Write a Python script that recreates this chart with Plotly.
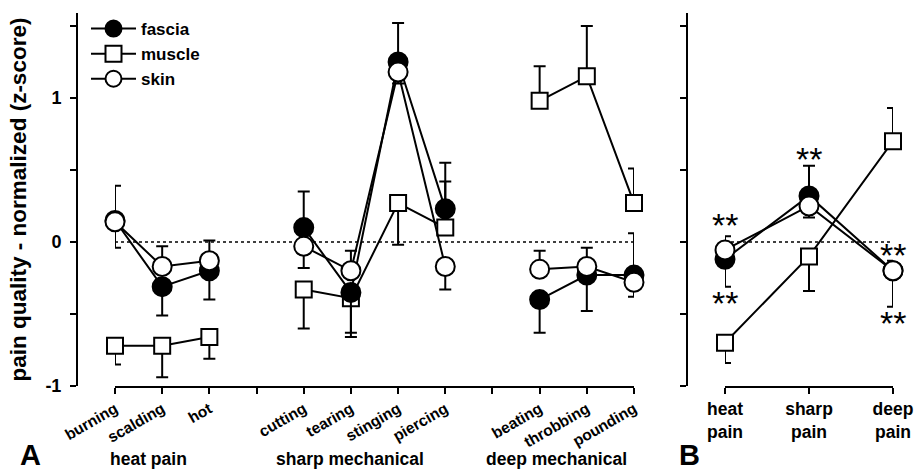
import plotly.graph_objects as go

W, H = 916, 470
FONT = "Liberation Sans, Arial, sans-serif"

# ---------------- data ----------------
groups = ["heat pain", "sharp mechanical", "deep mechanical"]
group_items = [["burning", "scalding", "hot"],
               ["cutting", "tearing", "stinging", "piercing"],
               ["beating", "throbbing", "pounding"]]

fascia_mean = [0.15, -0.31, -0.20, 0.10, -0.35, 1.25, 0.23, -0.40, -0.23, -0.23]
fascia_up   = [0.24, 0.0, 0.0, 0.25, 0.0, 0.27, 0.32, 0.0, 0.0, 0.29]
fascia_dn   = [0.0, 0.20, 0.20, 0.0, 0.28, 0.0, 0.0, 0.23, 0.25, 0.0]

muscle_mean = [-0.72, -0.72, -0.66, -0.33, -0.39, 0.27, 0.10, 0.98, 1.15, 0.27]
muscle_up   = [0.0, 0.0, 0.0, 0.0, 0.0, 0.0, 0.32, 0.24, 0.35, 0.24]
muscle_dn   = [0.13, 0.22, 0.15, 0.27, 0.27, 0.29, 0.0, 0.0, 0.0, 0.0]

skin_mean = [0.14, -0.17, -0.13, -0.03, -0.20, 1.18, -0.17, -0.19, -0.17, -0.28]
skin_up   = [0.0, 0.14, 0.14, 0.0, 0.14, 0.0, 0.0, 0.13, 0.13, 0.0]
skin_dn   = [0.18, 0.0, 0.0, 0.15, 0.0, 0.08, 0.16, 0.0, 0.0, 0.10]

# panel B
b_categories = ["heat<br>pain", "sharp<br>pain", "deep<br>pain"]
b_fascia_mean = [-0.12, 0.32, -0.20]
b_fascia_up   = [0.0, 0.21, 0.0]
b_fascia_dn   = [0.19, 0.0, 0.25]
b_muscle_mean = [-0.70, -0.10, 0.70]
b_muscle_up   = [0.0, 0.0, 0.23]
b_muscle_dn   = [0.14, 0.24, 0.0]
b_skin_mean   = [-0.055, 0.25, -0.20]
b_skin_up     = [0.095, 0.0, 0.07]
b_skin_dn     = [0.0, 0.08, 0.0]
# significance stars (category index, y position)
b_stars = [(0, 0.14), (0, -0.40), (1, 0.60), (2, -0.07), (2, -0.54)]

# ---------------- build positions (gap between groups) ----------------
xs, labels = [], []
pos = 0
for gi, items in enumerate(group_items):
    for it in items:
        xs.append(pos)
        labels.append(it)
        pos += 1
    pos += 1  # gap
x_max = pos - 2
gap_ticks = [x for x in range(x_max + 1) if x not in xs]


def with_gaps(vals):
    """insert None between groups so lines are not connected across groups"""
    out_x, out_y = [], []
    k = 0
    for gi, items in enumerate(group_items):
        for _ in items:
            out_x.append(xs[k])
            out_y.append(vals[k])
            k += 1
        if gi < len(group_items) - 1:
            out_x.append(xs[k - 1] + 1)
            out_y.append(None)
    return out_x, out_y


def gap_list(vals):
    return with_gaps(vals)[1]


series = [
    ("muscle", muscle_mean, muscle_up, muscle_dn, "square", "white", 16, 2),
    ("fascia", fascia_mean, fascia_up, fascia_dn, "circle", "black", 19, 1),
    ("skin", skin_mean, skin_up, skin_dn, "circle", "white", 19, 3),
]
b_series = {
    "muscle": (b_muscle_mean, b_muscle_up, b_muscle_dn),
    "fascia": (b_fascia_mean, b_fascia_up, b_fascia_dn),
    "skin": (b_skin_mean, b_skin_up, b_skin_dn),
}

fig = go.Figure()
for name, m, up, dn, sym, fill, size, rank in series:
    gx, gy = with_gaps(m)
    fig.add_trace(go.Scatter(
        x=gx, y=gy, name=name, legendrank=rank,
        mode="lines+markers", connectgaps=False, cliponaxis=False,
        line=dict(color="black", width=2),
        marker=dict(symbol=sym, size=size, color=fill,
                    line=dict(color="black", width=2)),
        error_y=dict(type="data", symmetric=False,
                     array=gap_list(up), arrayminus=gap_list(dn),
                     color="black", thickness=2, width=6),
        xaxis="x", yaxis="y",
    ))
    bm, bu, bd = b_series[name]
    fig.add_trace(go.Scatter(
        x=[0, 1, 2], y=bm, name=name, showlegend=False,
        mode="lines+markers", cliponaxis=False,
        line=dict(color="black", width=2),
        marker=dict(symbol=sym, size=size, color=fill,
                    line=dict(color="black", width=2)),
        error_y=dict(type="data", symmetric=False, array=bu, arrayminus=bd,
                     color="black", thickness=2, width=6),
        xaxis="x2", yaxis="y2",
    ))

# ---------------- layout ----------------
ydom = [1 - 386 / H, 1 - 13 / H]
yrange = [-1, 1.59]
ytick_common = dict(
    range=yrange, domain=ydom, showline=True, linecolor="black", linewidth=2,
    ticks="outside", ticklen=6, tickwidth=2, tickcolor="black",
    tickvals=[-1, -0.5, 0, 0.5, 1, 1.5], showgrid=False, zeroline=False,
    anchor="free", automargin=False,
)
fig.update_layout(
    template="none",
    width=W, height=H, margin=dict(l=0, r=0, t=0, b=0, autoexpand=False),
    paper_bgcolor="white", plot_bgcolor="white",
    font=dict(family=FONT, color="black"),
    showlegend=True,
    legend=dict(x=86 / W, y=1 - 11 / H, xanchor="left", yanchor="top",
                font=dict(size=17, family=FONT, weight="bold"),
                bgcolor="rgba(0,0,0,0)", tracegroupgap=0, itemwidth=45),
    xaxis=dict(domain=[115 / W, 634 / W], range=[0, x_max],
               tickvals=xs + gap_ticks, ticktext=labels + [""] * len(gap_ticks),
               tickangle=-30, ticks="outside", ticklen=6, tickwidth=2,
               tickcolor="black", showline=True, linecolor="black",
               linewidth=2, showgrid=False, zeroline=False, anchor="y",
               automargin=False,
               tickfont=dict(size=15.5, family=FONT, weight="bold")),
    yaxis=dict(**ytick_common, position=77 / W,
               ticktext=["-1", "", "0", "", "1", ""],
               ticklabelstandoff=5,
               tickfont=dict(size=18, family=FONT, weight="bold"),
               title=dict(text="pain quality - normalized (z-score)",
                          font=dict(size=22.5, family=FONT, weight="bold"),
                          standoff=12)),
    xaxis2=dict(domain=[725 / W, 893 / W], range=[0, 2],
                tickvals=[0, 1, 2], ticktext=b_categories,
                ticks="outside", ticklen=6, tickwidth=2, tickcolor="black",
                showline=True, linecolor="black", linewidth=2,
                showgrid=False, zeroline=False, anchor="y2",
                automargin=False,
                tickfont=dict(size=17.5, family=FONT, weight="bold")),
    yaxis2=dict(**ytick_common, position=687 / W, showticklabels=False),
)

# dotted zero lines
fig.add_shape(type="line", xref="x", yref="y", x0=0, x1=x_max, y0=0, y1=0,
              line=dict(color="black", width=1.5, dash="dot"), layer="below")
fig.add_shape(type="line", xref="x2", yref="y2", x0=0, x1=2, y0=0, y1=0,
              line=dict(color="black", width=1.5, dash="dot"), layer="below")

# stars
for ci, yv in b_stars:
    fig.add_annotation(x=ci, y=yv, xref="x2", yref="y2", text="**",
                       showarrow=False, yshift=-3, yanchor="middle",
                       xanchor="center", font=dict(size=34, family=FONT))

# group labels
for g, cx in zip(groups, [148, 350, 556]):
    fig.add_annotation(x=cx / W, y=1 - 459 / H, xref="paper", yref="paper",
                       text=g, showarrow=False, yanchor="middle",
                       xanchor="center",
                       font=dict(size=17.5, family=FONT, weight="bold"))
# panel letters
for t, cx in [("A", 30), ("B", 689)]:
    fig.add_annotation(x=cx / W, y=1 - 455 / H, xref="paper", yref="paper",
                       text=t, showarrow=False, yanchor="middle",
                       xanchor="center",
                       font=dict(size=29, family=FONT, weight="bold"))

fig.write_html("out.html", config={"displayModeBar": False},
               post_script="document.body.style.margin='0';"
                           "document.body.style.overflow='hidden';")
